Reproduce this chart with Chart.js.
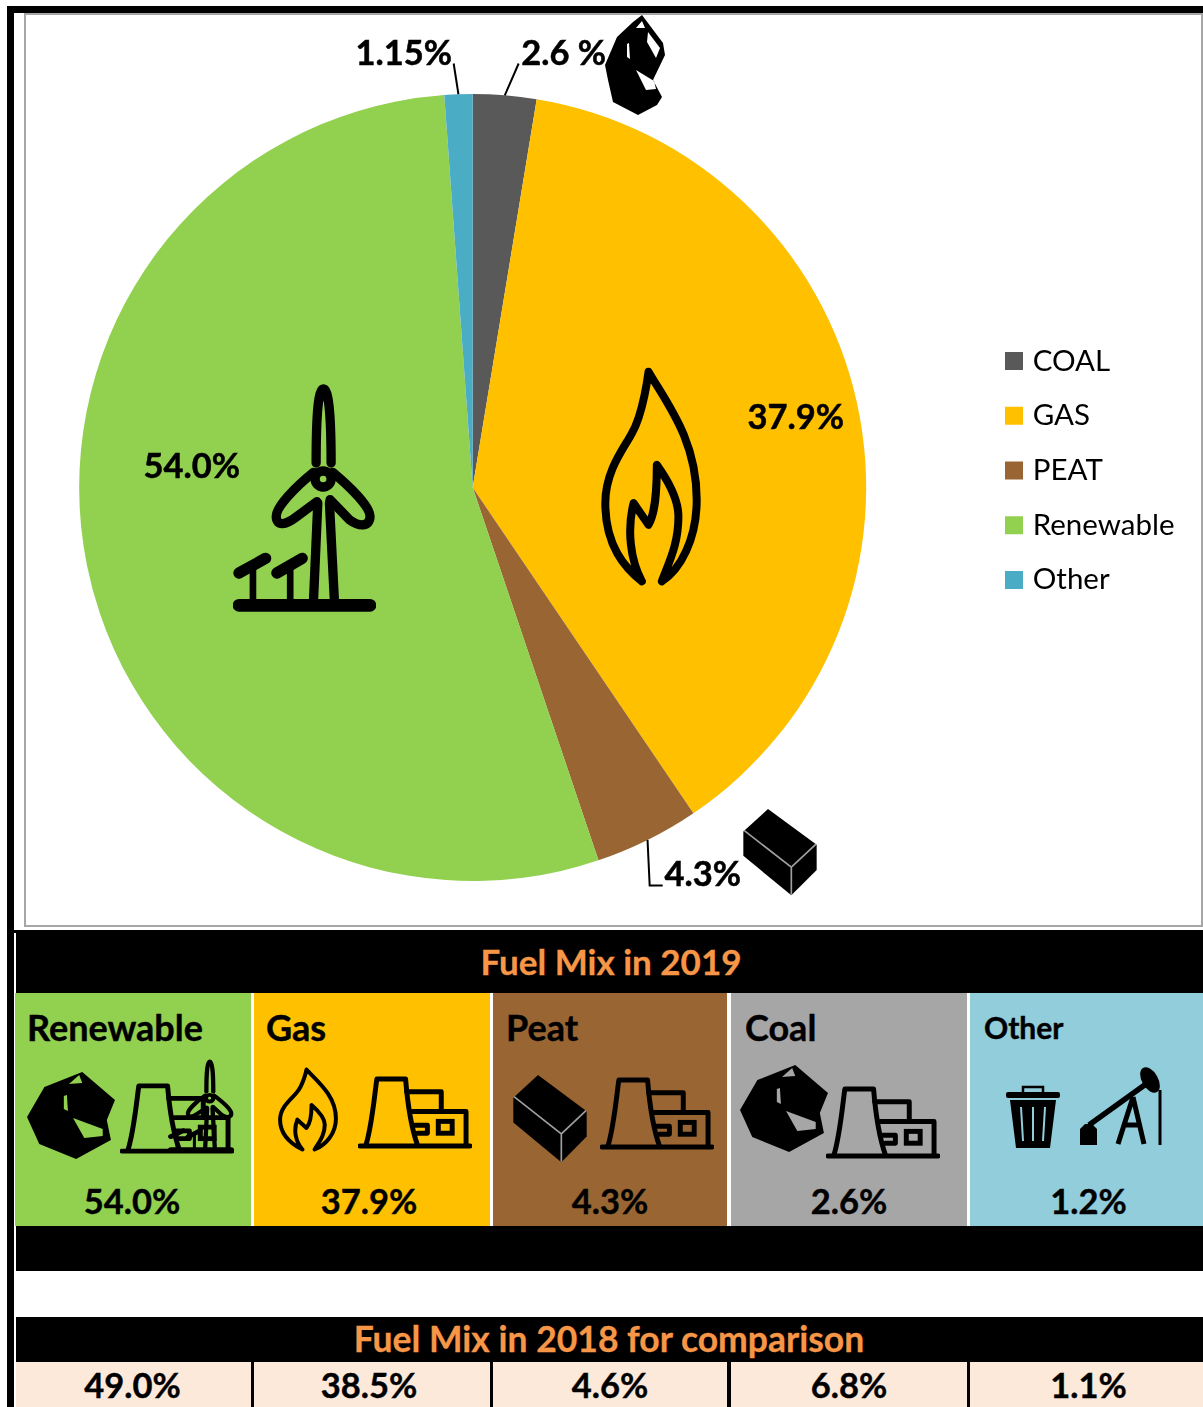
<!DOCTYPE html>
<html>
<head>
<meta charset="utf-8">
<title>Fuel Mix in 2019</title>
<script src="https://cdn.jsdelivr.net/npm/chart.js@4"></script>
<style>
  html, body { margin: 0; padding: 0; background: #fff; }
  body { position: relative; width: 1203px; height: 1407px; overflow: hidden; font-family: Lato, sans-serif; }
  .abs { position: absolute; }
  .black { background: #000; }
  .frame { left: 24px; top: 13px; width: 1175px; height: 910px; border: 2px solid #a6a6a6; }
  .band-title { color: #f79646; font-weight: 700; font-size: 35px; text-align: center; white-space: nowrap; -webkit-text-stroke: 0.3px #f79646; }
  .cell { color: #000; font-weight: 700; -webkit-text-stroke: 0.4px #000; }
  .cell .name { position: absolute; top: 14px; font-size: 36px; line-height: 40px; white-space: nowrap; }
  .cell .val { position: absolute; left: 0; right: 0; top: 188px; text-align: center; font-size: 34.5px; line-height: 40px; }
  .old { color: #000; font-weight: 700; font-size: 34.5px; line-height: 46px; text-align: center; background: #fde9d9; -webkit-text-stroke: 0.4px #000; }
  #wrap { left: 0; top: 0; width: 1203px; height: 930px; }
  #icons { left: 0; top: 0; pointer-events: none; }
  .flame-line { fill: none; stroke: #000; stroke-linecap: round; stroke-linejoin: round; vector-effect: non-scaling-stroke; }
</style>
</head>
<body>
<!-- outer frame -->
<div class="abs black" style="left:7px;top:6px;width:1196px;height:7px"></div>
<div class="abs black" style="left:7px;top:6px;width:7px;height:1401px"></div>
<div class="abs frame"></div>

<!-- pie chart -->
<div class="abs" id="wrap"><canvas id="fuelChart" width="1203" height="930"></canvas></div>

<!-- table under the pie -->
<div class="abs black" style="left:14px;top:930px;width:1189px;height:3px"></div>
<div class="abs black" style="left:16px;top:930px;width:1187px;height:63px"></div>
<div class="abs band-title" id="title2019" style="left:16px;top:941px;width:1190px;line-height:40px"></div>
<div id="cells2019"></div>
<div class="abs black" style="left:16px;top:1226px;width:1187px;height:45px"></div>
<div class="abs black" style="left:16px;top:1317px;width:1187px;height:45px"></div>
<div class="abs band-title" id="title2018" style="left:16px;top:1319px;width:1186px;line-height:40px;font-size:35.5px"></div>
<div class="abs black" style="left:16px;top:1362px;width:1187px;height:45px"></div>
<div id="cells2018"></div>

<!-- icons -->
<svg class="abs" id="icons" width="1203" height="1407" xmlns="http://www.w3.org/2000/svg">
  <defs>
    <symbol id="coalTall" viewBox="0 0 60 100" preserveAspectRatio="none">
      <path fill-rule="evenodd" d="M37 0 L58 28 L60 40 L48 65 L57 82 L52 90 L33 100 L8 87 L3 65 L0 50 L12 22 L28 7 Z
        M31 13 L37 6 L40 13 Z M43 17 L55 33 L51 43 L42 27 Z M22 29 L24 28 L25 44 L22 42 Z M31 55 L49 66 L51 74 L41 75 Z"/>
    </symbol>
    <symbol id="coalWide" viewBox="0 0 86 87" preserveAspectRatio="none">
      <path fill-rule="evenodd" d="M54 0 L86 28 L78 48 L82 68 L48 87 L12 72 L0 45 L17 15 Z
        M41 12 L51 3 L54 11 Z M36 24 L39 23 L40 39 L36 37 Z M45 46 L74 57 L74 64 L56 66 Z"/>
    </symbol>
    <symbol id="peat" viewBox="340 58 222 260" preserveAspectRatio="none">
      <path d="M341 125 L415 58 L561 165 L561 240 L485 316 L341 198 Z"/>
      <path d="M343 122 L485 232 L559 163 M485 232 L485 314" fill="none" stroke="#a0a0a0" stroke-width="5"/>
    </symbol>
    <symbol id="flame" viewBox="20 15 325 670" preserveAspectRatio="none">
      <path class="flame-line" d="M155 665 C105 625 45 560 45 430 C45 330 105 260 125 220 C160 160 175 35 175 35
        C230 130 320 240 320 420 C320 540 270 630 215 665 C240 600 265 550 265 470 C265 410 225 350 200 315
        C200 400 195 460 175 495 L130 430 C110 510 120 600 155 665"/>
    </symbol>
    <symbol id="turbine" viewBox="40 40 430 690" preserveAspectRatio="none">
      <g fill="none" stroke="#000" stroke-linecap="round" stroke-linejoin="round" stroke-width="28">
        <path d="M290 280 C290 120 298 58 312 58 C326 58 335 120 335 280"/>
        <circle cx="311" cy="328" r="24" stroke-width="28"/>
        <path d="M282 308 C230 350 170 410 170 440 C170 472 200 465 230 442 L292 396"/>
        <path d="M340 308 C390 350 452 410 452 440 C452 472 420 472 390 450 L332 390"/>
        <path d="M295 400 L282 695 M330 400 L345 695"/>
        <path d="M58 707 L452 707" stroke-width="38"/>
        <path d="M58 610 L138 566 M172 610 L248 566" stroke-width="34"/>
        <path d="M100 600 L100 700 M212 600 L212 700" stroke-width="20"/>
      </g>
    </symbol>
    <symbol id="plant" viewBox="0 0 115 74" preserveAspectRatio="none">
      <g fill="none" stroke="#000" stroke-linecap="round" stroke-linejoin="round" stroke-width="5">
        <path d="M2 71 L113 71"/>
        <path d="M8 70 C14 50 16 25 19 3 L48 3 C50 28 53 50 60 70"/>
        <path d="M49 16 L84 16 L84 34"/>
        <path d="M55 36 L109 36 L109 70"/>
        <path d="M57 50 L70 50 L70 58 L60 58"/>
        <rect x="81" y="46" width="14" height="12" stroke-linejoin="miter"/>
      </g>
    </symbol>
    <symbol id="trash" viewBox="0 0 54 63" preserveAspectRatio="none">
      <path d="M17 7 L17 2 L37 2 L37 7" fill="none" stroke="#000" stroke-width="2.5"/>
      <rect x="0" y="7" width="54" height="6" rx="2"/>
      <path fill-rule="evenodd" d="M4 15 L50 15 L44 63 L10 63 Z M14 22 L16 22 L18 56 L16 56 Z M26 22 L28 22 L28 56 L26 56 Z M38 22 L40 22 L38 56 L36 56 Z"/>
    </symbol>
    <symbol id="pumpjack" viewBox="0 0 86 80" preserveAspectRatio="none">
      <g fill="none" stroke="#000">
        <path d="M11 58 L68 17" stroke-width="5.5"/>
        <path d="M82 23 L82 78" stroke-width="3"/>
        <path d="M55 30 L40 77 M55 30 L66 77 M47 58 L60 58" stroke-width="5"/>
      </g>
      <ellipse cx="72" cy="13" rx="8" ry="14" transform="rotate(-30 72 13)"/>
      <path d="M2 62 L7 57 L14 57 L19 62 L19 78 L2 78 Z"/>
    </symbol>
  </defs>
</svg>

<script>
// series for the pie, clockwise from 12 o'clock
const fuelNames = ['COAL', 'GAS', 'PEAT', 'Renewable', 'Other'];
const fuelShare = [2.6, 37.9, 4.3, 54.0, 1.15];
const fuelLabels = ['2.6 %', '37.9%', '4.3%', '54.0%', '1.15%'];
const fuelColors = ['#595959', '#FFC000', '#996633', '#92D050', '#4BACC6'];

// tables below the pie
const cellNames = ['Renewable', 'Gas', 'Peat', 'Coal', 'Other'];
const share2019 = ['54.0%', '37.9%', '4.3%', '2.6%', '1.2%'];
const share2018 = ['49.0%', '38.5%', '4.6%', '6.8%', '1.1%'];
const cellColors = ['#92D050', '#FFC000', '#996633', '#A6A6A6', '#92CDDC'];
const cellLeft = [15, 254, 493, 731, 970];
const cellRight = [251, 490, 727, 967, 1203];
const nameInset = [12, 12, 13, 14, 14];
const valueNudge = [-1, -3, 0, 0, 2];
const title2019 = 'Fuel Mix in 2019';
const title2018 = 'Fuel Mix in 2018 for comparison';

// label centres relative to the pie centre
const labelPos = [[91, -434], [323, -70], [230, 387], [-281, -21], [-69, -434]];
// leader line elbows relative to the pie centre, only for the small slices
const leaderEnds = [[[46, -424]], null, [[177, 398], [190, 398]], null, [[-19, -424]]];

// data labels and leader lines
const sliceLabels = {
    id: 'sliceLabels',
    afterDatasetsDraw(chart) {
        const ctx = chart.ctx;
        const arcs = chart.getDatasetMeta(0).data;
        ctx.save();
        arcs.forEach((arc, i) => {
            const mid = (arc.startAngle + arc.endAngle) / 2;
            if (leaderEnds[i]) {
                ctx.beginPath();
                ctx.moveTo(arc.x + Math.cos(mid) * arc.outerRadius, arc.y + Math.sin(mid) * arc.outerRadius);
                leaderEnds[i].forEach(p => ctx.lineTo(arc.x + p[0], arc.y + p[1]));
                ctx.strokeStyle = '#000';
                ctx.lineWidth = 2;
                ctx.stroke();
            }
            ctx.font = '700 34.5px Lato';
            ctx.fillStyle = '#000';
            ctx.strokeStyle = '#000';
            ctx.lineWidth = 0.5;
            ctx.textAlign = 'center';
            ctx.textBaseline = 'middle';
            ctx.fillText(fuelLabels[i], arc.x + labelPos[i][0], arc.y + labelPos[i][1]);
            ctx.strokeText(fuelLabels[i], arc.x + labelPos[i][0], arc.y + labelPos[i][1]);
        });
        ctx.restore();
    }
};

// the legend sits well away from the pie, move it once the layout is done
const legendSpot = {
    id: 'legendSpot',
    afterLayout(chart) {
        const legend = chart.legend;
        const pad = legend.options.labels.padding;
        const h = legend.bottom - legend.top;
        legend.left = 1010 - pad;
        legend.right = legend.left + legend.width;
        legend.top = legend.top - 17;
        legend.bottom = legend.top + h;
    }
};

new Chart(document.getElementById('fuelChart'), {
    type: 'pie',
    data: {
        labels: fuelNames,
        datasets: [{
            data: fuelShare,
            backgroundColor: fuelColors,
            borderWidth: 0
        }]
    },
    options: {
        responsive: false,
        animation: false,
        layout: { padding: { left: 79, right: 137, top: 94, bottom: 49 } },
        plugins: {
            tooltip: { enabled: false },
            legend: {
                position: 'right',
                labels: {
                    usePointStyle: true,
                    pointStyle: 'rect',
                    boxWidth: 8,
                    boxHeight: 18,
                    padding: 25.2,
                    color: '#000',
                    font: { family: 'Lato', size: 29.5 }
                }
            }
        }
    },
    plugins: [sliceLabels, legendSpot]
});

document.getElementById('title2019').textContent = title2019;
document.getElementById('title2018').textContent = title2018;

// 2019 tiles and the 2018 row
const cells2019 = document.getElementById('cells2019');
const cells2018 = document.getElementById('cells2018');
cellNames.forEach((name, i) => {
    const w = cellRight[i] - cellLeft[i];
    const shift = valueNudge[i] * 2;
    const pad = shift < 0 ? `padding-right:${-shift}px;` : `padding-left:${shift}px;`;
    const tile = document.createElement('div');
    tile.className = 'abs cell';
    tile.style.cssText = `left:${cellLeft[i]}px;top:993px;width:${w}px;height:233px;background:${cellColors[i]}`;
    const small = name === 'Other' ? 'font-size:30px;' : '';
    tile.innerHTML = `<div class="name" style="left:${nameInset[i]}px;${small}">${name}</div><div class="val" style="${pad}">${share2019[i]}</div>`;
    cells2019.appendChild(tile);

    const left = i === 0 ? 16 : cellLeft[i];
    const old = document.createElement('div');
    old.className = 'abs old';
    old.style.cssText = `left:${left}px;top:1362px;width:${cellRight[i] - left - (shift < 0 ? -shift : shift)}px;height:45px;${pad}`;
    old.textContent = share2018[i];
    cells2018.appendChild(old);
});

// icon placement: symbol, x, y, width, height, stroke for the flame
const iconSpots = [
    ['coalTall', 605, 15, 60, 100],
    ['flame', 597, 365, 108, 223, 8],
    ['peat', 743, 809, 74, 87],
    ['turbine', 233, 383, 143, 230],
    ['coalWide', 27, 1072, 88, 87],
    ['plant', 120, 1083, 114, 71],
    ['turbine', 168, 1059, 66, 94],
    ['flame', 275, 1067, 66, 85, 4],
    ['plant', 358, 1076, 114, 73],
    ['peat', 513, 1075, 74, 88],
    ['plant', 600, 1077, 114, 73],
    ['coalWide', 740, 1065, 88, 87],
    ['plant', 826, 1086, 114, 73],
    ['trash', 1006, 1085, 54, 63],
    ['pumpjack', 1078, 1067, 86, 80]
];
const icons = document.getElementById('icons');
iconSpots.forEach(s => {
    const use = document.createElementNS('http://www.w3.org/2000/svg', 'use');
    use.setAttribute('href', '#' + s[0]);
    use.setAttribute('x', s[1]);
    use.setAttribute('y', s[2]);
    use.setAttribute('width', s[3]);
    use.setAttribute('height', s[4]);
    if (s[5]) use.setAttribute('stroke-width', s[5]);
    icons.appendChild(use);
});
</script>
</body>
</html>
